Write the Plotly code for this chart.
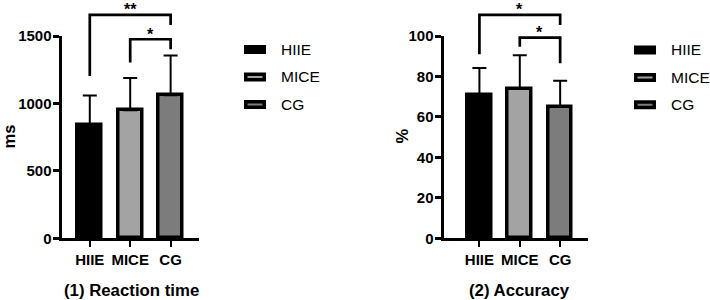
import plotly.graph_objects as go

W, H = 710, 300

# ---------------- data ----------------
groups = ["HIIE", "MICE", "CG"]
colors = ["#000000", "#a3a3a3", "#7c7c7c"]

rt_mean = [842, 950, 1060]
rt_sd = [216, 239, 295]
rt_ticks = [0, 500, 1000, 1500]

acc_mean = [70.8, 74.0, 65.0]
acc_sd = [13.4, 16.5, 12.9]
acc_ticks = [0, 20, 40, 60, 80, 100]

# significance brackets: (from group idx, to group idx, top, left leg end, right leg end, label)
rt_sig = [(0, 2, 1656, 1204, 1582, "**"), (1, 2, 1476, 1303, 1402, "*")]
acc_sig = [(0, 2, 110.4, 91.0, 105.4, "*"), (1, 2, 99.2, 94.7, 86.5, "*")]

panel_titles = ["(1) Reaction time", "(2) Accuracy"]
y_titles = ["ms", "%"]

# ---------------- layout helpers ----------------
FONT = "Liberation Sans, Arial, Helvetica, sans-serif"
def px(x):
    return x / W
def py(y):
    return 1 - y / H

ydom = [py(238.3), py(36)]
panels = [
    dict(xdom=[px(61.5), px(198.5)], xr=[-0.70, 2.69], ymax=1500, mean=rt_mean, sd=rt_sd,
         ticks=rt_ticks, sig=rt_sig, title_x=131, ylab_x=8, leg_sq=244, leg_tx=278.5,
         leg_y=[49.5, 77, 104.5]),
    dict(xdom=[px(443.5), px(588)], xr=[-0.89, 2.69], ymax=100, mean=acc_mean, sd=acc_sd,
         ticks=acc_ticks, sig=acc_sig, title_x=519, ylab_x=401, leg_sq=634, leg_tx=668.5,
         leg_y=[50, 77.5, 104.7]),
]

fig = go.Figure()
shapes, annotations = [], []
xs = list(range(len(groups)))

for i, p in enumerate(panels):
    sfx = "" if i == 0 else str(i + 1)
    fig.add_trace(go.Bar(
        x=xs, y=p["mean"], width=0.585,
        marker=dict(color=colors, line=dict(color="black", width=3.5)),
        error_y=dict(type="data", array=p["sd"], arrayminus=[0] * len(groups), symmetric=False,
                     thickness=2, width=7, color="black"),
        xaxis="x" + sfx, yaxis="y" + sfx, showlegend=False,
    ))
    axfont = dict(family=FONT, size=15, color="black", weight="bold")
    fig.layout["xaxis" + sfx] = dict(
        domain=p["xdom"], range=p["xr"], anchor="y" + sfx, automargin=False,
        tickvals=xs, ticktext=groups, ticks="outside", ticklen=6, tickwidth=2,
        tickcolor="black", showline=True, linewidth=3, linecolor="black",
        showgrid=False, zeroline=False, tickfont=axfont, fixedrange=True)
    fig.layout["yaxis" + sfx] = dict(
        domain=ydom, range=[0, p["ymax"]], anchor="x" + sfx, automargin=False,
        tickvals=p["ticks"], ticks="outside", ticklen=6, tickwidth=3,
        ticklabelstandoff=-2,
        tickcolor="black", showline=True, linewidth=3, linecolor="black",
        showgrid=False, zeroline=False, tickfont=axfont, fixedrange=True)

    def yp(v, ymax=p["ymax"]):
        return ydom[0] + v / ymax * (ydom[1] - ydom[0])

    # significance brackets
    for (a, b, top, la, lb, lab) in p["sig"]:
        shapes.append(dict(
            type="path", xref="x" + sfx, yref="paper",
            path=f"M {a},{yp(la)} L {a},{yp(top)} L {b},{yp(top)} L {b},{yp(lb)}",
            line=dict(color="black", width=2.7)))
        annotations.append(dict(
            x=(a + b) / 2, xref="x" + sfx, y=yp(top), yref="paper",
            text=lab, showarrow=False, xanchor="center", yanchor="middle",
            yshift=5, font=dict(family=FONT, size=16, color="black", weight="bold")))

    # panel title
    annotations.append(dict(
        x=px(p["title_x"]), y=py(290), xref="paper", yref="paper",
        text=panel_titles[i], showarrow=False, xanchor="center", yanchor="middle",
        font=dict(family=FONT, size=16.8, color="black", weight="bold")))
    # y-axis title
    annotations.append(dict(
        x=px(p["ylab_x"]), y=py(136.5), xref="paper", yref="paper",
        text=y_titles[i], showarrow=False, textangle=-90, xanchor="center", yanchor="middle",
        font=dict(family=FONT, size=16.5, color="black", weight="bold")))

    # legend
    for g, c, ly in zip(groups, colors, p["leg_y"]):
        shapes.append(dict(
            type="rect", xref="paper", yref="paper",
            x0=px(p["leg_sq"] + 1.75), x1=px(p["leg_sq"] + 22 - 1.75),
            y0=py(ly - 2.75), y1=py(ly + 2.75),
            fillcolor=c, line=dict(color="black", width=3.5)))
        annotations.append(dict(
            x=px(p["leg_tx"]), y=py(ly), xref="paper", yref="paper",
            text=g, showarrow=False, xanchor="left", yanchor="middle",
            font=dict(family=FONT, size=15.5, color="black")))

fig.update_layout(
    width=W, height=H, margin=dict(l=0, r=0, t=0, b=0, autoexpand=False),
    paper_bgcolor="white", plot_bgcolor="white",
    shapes=shapes, annotations=annotations, bargap=0,
)

fig.write_html("out.html", config={"displayModeBar": False})
